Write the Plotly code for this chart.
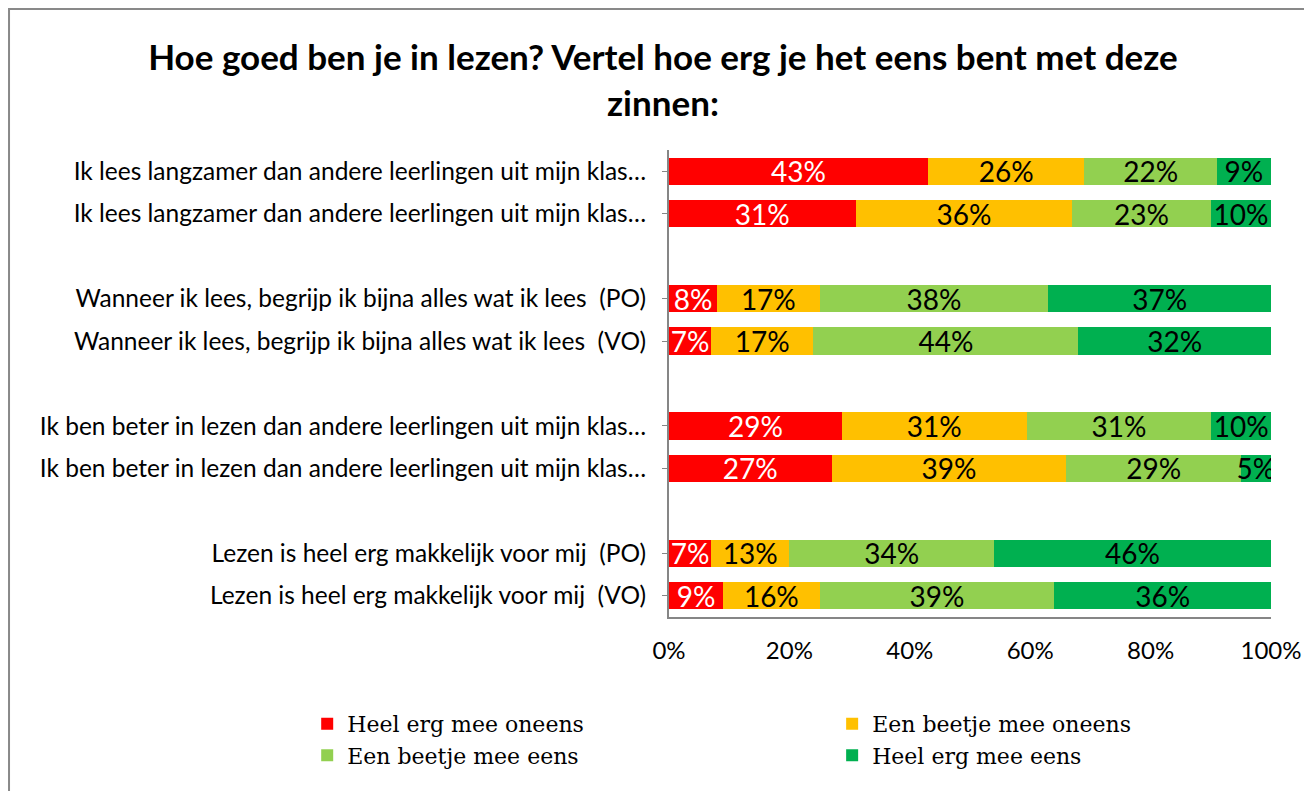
import plotly.graph_objects as go

# statements, top to bottom (two rows per statement: PO and VO)
labels = [
    "Ik lees langzamer dan andere leerlingen uit mijn klas…",
    "Ik lees langzamer dan andere leerlingen uit mijn klas…",
    "Wanneer ik lees, begrijp ik bijna alles wat ik lees \u00a0(PO)",
    "Wanneer ik lees, begrijp ik bijna alles wat ik lees \u00a0(VO)",
    "Ik ben beter in lezen dan andere leerlingen uit mijn klas…",
    "Ik ben beter in lezen dan andere leerlingen uit mijn klas…",
    "Lezen is heel erg makkelijk voor mij \u00a0(PO)",
    "Lezen is heel erg makkelijk voor mij \u00a0(VO)",
]
# slot of each row on the y axis (empty slot between the statement pairs)
slots = [0, 1, 3, 4, 6, 7, 9, 10]

heel_oneens = [43, 31, 8, 7, 29, 27, 7, 9]
beetje_oneens = [26, 36, 17, 17, 31, 39, 13, 16]
beetje_eens = [22, 23, 38, 44, 31, 29, 34, 39]
heel_eens = [9, 10, 37, 32, 10, 5, 46, 36]

# name, values, colour, label colour, legend column
series = [
    ("Heel erg mee oneens", heel_oneens, "#FF0000", "white", "legend"),
    ("Een beetje mee oneens", beetje_oneens, "#FFC000", "black", "legend2"),
    ("Een beetje mee eens", beetje_eens, "#92D050", "black", "legend"),
    ("Heel erg mee eens", heel_eens, "#00B050", "black", "legend2"),
]

FONT = "Lato"
LEG_FONT = dict(family="DejaVu Serif", size=22, color="black")

fig = go.Figure()
for name, vals, col, tcol, leg in series:
    fig.add_trace(go.Bar(
        name=name,
        y=slots,
        x=vals,
        orientation="h",
        marker=dict(color=col, line=dict(width=0)),
        text=[f"{v}%" for v in vals],
        textposition="inside",
        insidetextanchor="middle",
        textangle=0,
        textfont=dict(family=FONT, size=28, color=tcol),
        legend=leg,
    ))

fig.update_layout(
    barmode="stack",
    barnorm="percent",
    bargap=0.36,
    width=1304, height=791,
    margin=dict(l=669, r=33, t=150, b=174, autoexpand=False),
    paper_bgcolor="white",
    plot_bgcolor="white",
    uniformtext=dict(mode="show", minsize=28),
    title=dict(
        text="<b>Hoe goed ben je in lezen? Vertel hoe erg je het eens bent met deze<br>zinnen:</b>",
        x=0.5084, xref="container", xanchor="center",
        y=0.9115, yref="container", yanchor="middle",
        font=dict(family=FONT, size=35, color="black"),
    ),
    legend=dict(
        orientation="v", traceorder="normal",
        x=-0.601, xanchor="left",
        y=-0.184, yanchor="top",
        font=LEG_FONT, tracegroupgap=0, itemwidth=30,
    ),
    legend2=dict(
        orientation="v", traceorder="normal",
        x=0.271, xanchor="left",
        y=-0.184, yanchor="top",
        font=LEG_FONT, tracegroupgap=0, itemwidth=30,
    ),
    showlegend=True,
)

fig.update_xaxes(
    range=[0, 100],
    tickvals=[0, 20, 40, 60, 80, 100],
    ticktext=["0%", "20%", "40%", "60%", "80%", "100%"],
    showgrid=False,
    zeroline=False,
    automargin=False,
    showline=True, linecolor="#868686", linewidth=2,
    ticks="",
    tickfont=dict(family=FONT, size=24, color="black"),
    ticklabelstandoff=11,
)
fig.update_yaxes(
    range=[10.5, -0.5],
    tickvals=slots,
    ticktext=labels,
    showgrid=False,
    zeroline=False,
    automargin=False,
    showline=True, linecolor="#868686", linewidth=2,
    ticks="outside", ticklen=5, tickcolor="#868686",
    tickfont=dict(family=FONT, size=24.5, color="black"),
    ticklabelstandoff=11,
)

# outer chart frame
fig.add_shape(
    type="rect", xref="paper", yref="paper",
    x0=-1.0963, x1=1.07, y0=-0.4, y1=1.302,
    line=dict(color="#898989", width=2),
    fillcolor="rgba(0,0,0,0)",
    layer="below",
)

# drop the default 8px page margin so the figure sits at the window corner
fig.write_html(
    "out.html",
    config={"displayModeBar": False},
    post_script="document.body.style.margin='0';",
)
